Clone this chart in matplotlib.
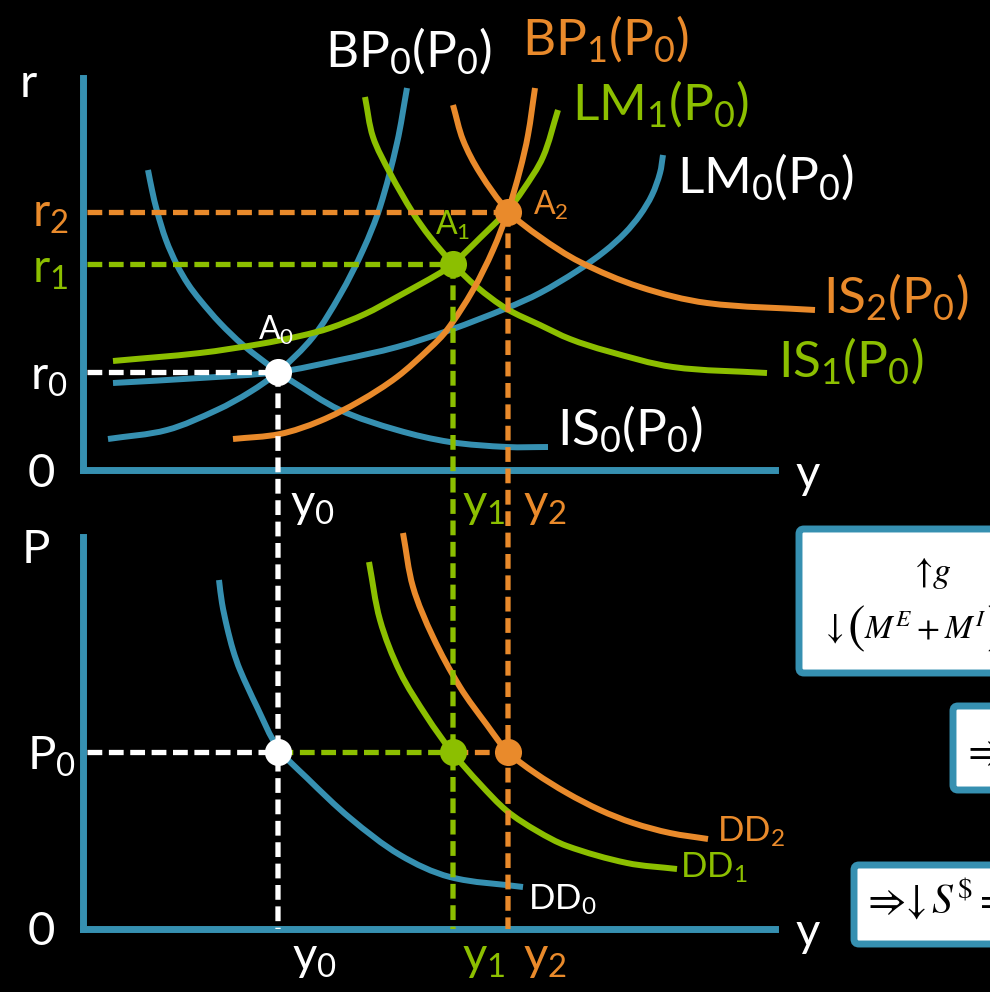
import numpy as np
import matplotlib
matplotlib.use('Agg')
import matplotlib.pyplot as plt
from matplotlib.path import Path
from matplotlib.patches import ConnectionPatch, FancyBboxPatch, PathPatch

plt.rcParams['font.family'] = ['Lato', 'DejaVu Sans']
plt.rcParams['mathtext.fontset'] = 'custom'
plt.rcParams['mathtext.rm'] = 'Lato'
plt.rcParams['mathtext.it'] = 'Lato:italic'
plt.rcParams['mathtext.bf'] = 'Lato:bold'

BLUE = '#3690b1'
GREEN = '#8cbf00'
ORANGE = '#e98a2b'
WHITE = 'white'

# equilibrium output, interest rate and price level (diagram units)
y0, y1, y2 = 195, 370, 425
r0, r1, r2 = 98, 206, 258
p0 = 177

# upper panel: (y, r) points
is0_y = [65, 69, 74, 83, 94, 105, 117, 137, 160, 195, 207, 257, 314, 367, 424, 465]
is0_r = [300, 280, 259, 230, 205, 186, 170, 147, 125, 98, 90, 60, 40, 28, 23, 23]
bp0_y = [25, 84, 134, 167, 195, 230, 257, 280, 297, 314, 324]
bp0_r = [31, 40, 60, 78, 98, 133, 175, 220, 263, 327, 382]
lm0_y = [30, 117, 195, 257, 314, 367, 424, 457, 494, 522, 542, 557, 569, 577, 580]
lm0_r = [87, 92, 98, 110, 123, 140, 162, 177, 199, 219, 237, 255, 275, 297, 315]
lm1_y = [30, 117, 177, 217, 247, 282, 314, 357, 370, 397, 424, 440, 460, 475]
lm1_r = [109, 117, 126, 134, 142, 156, 173, 197, 206, 232, 259, 280, 313, 360]
is1_y = [282, 290, 307, 330, 347, 370, 394, 424, 457, 487, 524, 590, 684]
is1_r = [373, 333, 297, 257, 233, 206, 183, 161, 145, 131, 119, 103, 97]
bp1_y = [150, 197, 237, 277, 314, 347, 364, 390, 410, 425, 437, 445, 452]
bp1_r = [31, 36, 49, 69, 93, 122, 140, 180, 220, 259, 300, 335, 382]
is2_y = [370, 380, 397, 425, 457, 497, 557, 624, 732]
is2_r = [365, 330, 297, 259, 233, 208, 183, 167, 160]

# lower panel: (y, P) points
dd0_y = [136, 139, 144, 150, 157, 174, 195, 224, 267, 317, 367, 440]
dd0_p = [349, 326, 302, 279, 259, 222, 181, 151, 111, 74, 52, 42]
dd1_y = [286, 297, 317, 344, 369, 397, 424, 454, 484, 544, 594]
dd1_p = [367, 309, 257, 212, 177, 145, 118, 98, 83, 66, 60]
dd2_y = [320, 330, 350, 377, 404, 425, 452, 484, 517, 550, 587, 625]
dd2_p = [396, 342, 292, 242, 204, 177, 156, 136, 119, 106, 96, 90]

W, H = 990, 992
fig = plt.figure(figsize=(W / 100, H / 100), dpi=100, facecolor='black')


def rect(x0, ya, x1, yb):
    return [x0 / W, 1 - yb / H, (x1 - x0) / W, (yb - ya) / H]


top = fig.add_axes(rect(83, 78, 775, 470))
bot = fig.add_axes(rect(83, 537, 775, 929))
for ax in (top, bot):
    ax.set_xlim(0, 692)
    ax.set_ylim(0, 392)
    ax.set_facecolor('none')
    ax.set_xticks([])
    ax.set_yticks([])
    for s in ('top', 'right'):
        ax.spines[s].set_visible(False)
    for s in ('left', 'bottom'):
        ax.spines[s].set_color(BLUE)
        ax.spines[s].set_linewidth(5)
        ax.spines[s].set_capstyle('projecting')


def curve(ax, xs, ys, color):
    # smooth stroke through the read points (chord-length Hermite as Bezier segments)
    pts = np.column_stack([xs, ys]).astype(float)
    n = len(pts)
    t = np.concatenate([[0], np.cumsum(np.hypot(*np.diff(pts, axis=0).T))])
    m = np.zeros_like(pts)
    m[0] = (pts[1] - pts[0]) / (t[1] - t[0])
    m[-1] = (pts[-1] - pts[-2]) / (t[-1] - t[-2])
    for i in range(1, n - 1):
        m[i] = (pts[i + 1] - pts[i - 1]) / (t[i + 1] - t[i - 1])
    verts = [pts[0]]
    codes = [Path.MOVETO]
    for i in range(n - 1):
        h = t[i + 1] - t[i]
        verts += [pts[i] + m[i] * h / 3, pts[i + 1] - m[i + 1] * h / 3, pts[i + 1]]
        codes += [Path.CURVE4] * 3
    ax.add_patch(PathPatch(Path(verts, codes), fill=False, edgecolor=color, lw=4.3,
                           capstyle='butt', joinstyle='round', clip_on=False, zorder=3))


curve(top, is0_y, is0_r, BLUE)
curve(top, bp0_y, bp0_r, BLUE)
curve(top, lm0_y, lm0_r, BLUE)
curve(top, lm1_y, lm1_r, GREEN)
curve(top, is1_y, is1_r, GREEN)
curve(top, bp1_y, bp1_r, ORANGE)
curve(top, is2_y, is2_r, ORANGE)
curve(bot, dd0_y, dd0_p, BLUE)
curve(bot, dd1_y, dd1_p, GREEN)
curve(bot, dd2_y, dd2_p, ORANGE)

# dashed guides
DLW = 3.8
dash_kw = dict(lw=DLW, dashes=(2.8, 1.25), dash_capstyle='butt', clip_on=False, zorder=4)
top.plot([4, y2], [r2, r2], color=ORANGE, **dash_kw)
top.plot([4, y1], [r1, r1], color=GREEN, **dash_kw)
top.plot([4, y0], [r0, r0], color=WHITE, **dash_kw)
bot.plot([4, y0], [p0, p0], color=WHITE, **dash_kw)
bot.plot([y0, y1], [p0, p0], color=GREEN, **dash_kw)
bot.plot([y1, y2], [p0, p0], color=ORANGE, **dash_kw)

for yy, rr, c in ((y0, r0, WHITE), (y1, r1, GREEN), (y2, r2, ORANGE)):
    con = ConnectionPatch(xyA=(yy, rr), coordsA=top.transData,
                          xyB=(yy, 0), coordsB=bot.transData,
                          color=c, lw=DLW, linestyle=(0, (2.8, 1.25)),
                          capstyle='butt', zorder=1)
    fig.add_artist(con)

dot_kw = dict(marker='o', ms=19.5, mew=0, clip_on=False, zorder=6, ls='none')
top.plot([y0], [r0], color=WHITE, **dot_kw)
top.plot([y1], [r1], color=GREEN, **dot_kw)
top.plot([y2], [r2], color=ORANGE, **dot_kw)
bot.plot([y0], [p0], color=WHITE, **dot_kw)
bot.plot([y1], [p0], color=GREEN, **dot_kw)
bot.plot([y2], [p0], color=ORANGE, **dot_kw)


def label(s, x, y, color, size, **kw):
    fig.text(x / W, 1 - y / H, s, color=color, fontsize=size,
             ha=kw.pop('ha', 'left'), va='baseline', **kw)


BIG = 37
label('BP$_0$(P$_0$)', 325, 67, WHITE, BIG)
label('BP$_1$(P$_0$)', 522, 55, ORANGE, BIG)
label('LM$_1$(P$_0$)', 572, 120, GREEN, BIG)
label('LM$_0$(P$_0$)', 677, 193, WHITE, BIG)
label('IS$_2$(P$_0$)', 823, 313, ORANGE, BIG)
label('IS$_1$(P$_0$)', 778, 377, GREEN, BIG)
label('IS$_0$(P$_0$)', 557, 445, WHITE, BIG)

SMALL = 23
label('A$_0$', 258, 340, WHITE, SMALL)
label('A$_1$', 435, 235, GREEN, SMALL)
label('A$_2$', 533, 215, ORANGE, SMALL)

DD = 25
label('DD$_2$', 717, 842, ORANGE, DD)
label('DD$_1$', 680, 878, GREEN, DD)
label('DD$_0$', 528, 910, WHITE, DD)

AX = 34
label('r', 20, 97, WHITE, AX)
label('r$_2$', 32, 227, ORANGE, AX)
label('r$_1$', 32, 283, GREEN, AX)
label('r$_0$', 30, 390, WHITE, AX)
label('0', 28, 487, WHITE, AX)
label('y', 795, 488, WHITE, AX)
label('y$_0$', 290, 517, WHITE, AX)
label('y$_1$', 462, 517, GREEN, AX)
label('y$_2$', 523, 517, ORANGE, AX)
label('P', 22, 563, WHITE, AX)
label('P$_0$', 27, 770, WHITE, AX)
label('0', 28, 945, WHITE, AX)
label('y', 795, 946, WHITE, AX)
label('y$_0$', 292, 970, WHITE, AX)
label('y$_1$', 462, 970, GREEN, AX)
label('y$_2$', 523, 970, ORANGE, AX)

# white boxes at the right edge (cut off by the slide, as in the original)
for x0, ya, yb in ((799, 529, 673), (953, 706, 790), (854, 865, 944)):
    fig.add_artist(FancyBboxPatch((x0 / W, 1 - yb / H), (1010 - x0) / W, (yb - ya) / H,
                                  boxstyle='round,pad=0,rounding_size=0.005',
                                  transform=fig.transFigure, facecolor='white',
                                  edgecolor=BLUE, lw=5, zorder=2))

box_kw = dict(family='STIXGeneral', math_fontfamily='stix', zorder=3)
label('↑$g$', 933, 582, 'black', 26, ha='center', **box_kw)
label('↓', 826, 638, 'black', 26, **box_kw)
label('(', 848, 642, 'black', 38, **box_kw)
label('$M^{E}+M^{I}$', 864, 638, 'black', 24, **box_kw)
label(')', 986, 642, 'black', 38, **box_kw)
label('⇒', 967, 764, 'black', 30, **box_kw)
label('⇒↓$\\,S^{\\$}=$', 867, 913, 'black', 30, **box_kw)

fig.savefig('out.png', dpi=100, facecolor='black')
